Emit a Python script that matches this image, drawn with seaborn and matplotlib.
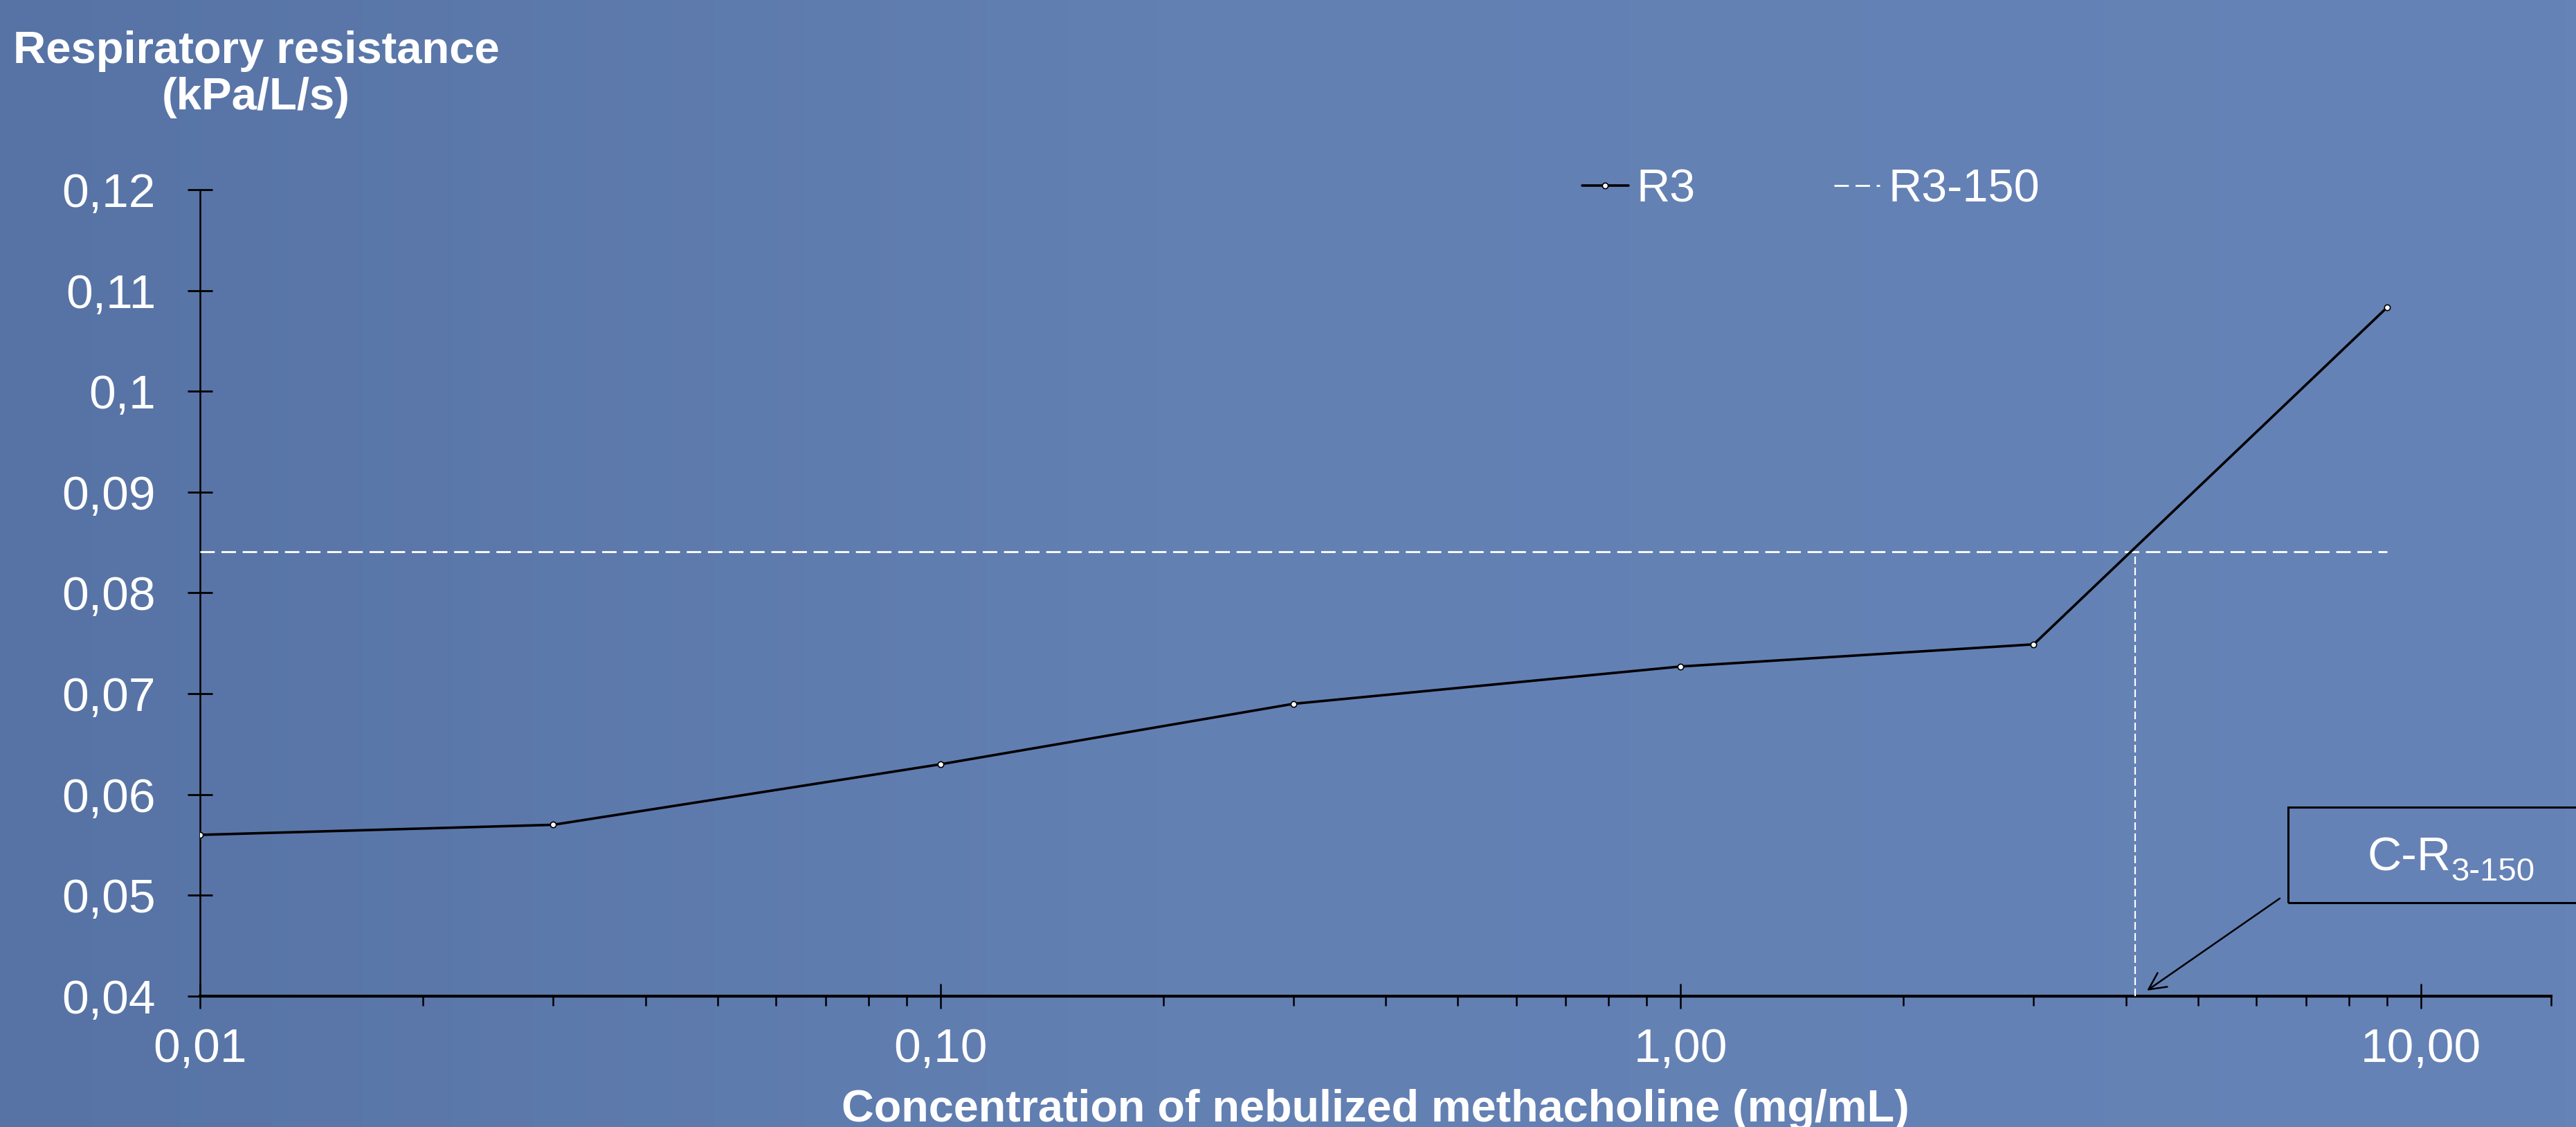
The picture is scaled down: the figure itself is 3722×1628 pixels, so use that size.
import numpy as np
import matplotlib
matplotlib.use("Agg")
import matplotlib.pyplot as plt
import matplotlib.ticker as mticker
from matplotlib.patches import Rectangle
from matplotlib.colors import LinearSegmentedColormap
import seaborn as sns

# ---------------- data ----------------
concentration = [0.01, 0.03, 0.10, 0.30, 1.00, 3.00, 9.00]          # mg/mL
r3 = [0.0560, 0.0570, 0.0630, 0.0690, 0.0727, 0.0749, 0.1083]        # kPa/L/s
r3_150_level = 0.0841                                                  # 150 % of baseline R3
r3_150_x = [0.01, 9.00]
c_r3_150 = 4.11                                                        # concentration at R3-150
y_floor = 0.04

series_names = ["R3", "R3-150"]
x_ticks = [0.01, 0.1, 1.0, 10.0]
x_tick_labels = ["0,01", "0,10", "1,00", "10,00"]
y_ticks = [0.04, 0.05, 0.06, 0.07, 0.08, 0.09, 0.10, 0.11, 0.12]
y_tick_labels = ["0,04", "0,05", "0,06", "0,07", "0,08", "0,09", "0,1", "0,11", "0,12"]
x_label = "Concentration of nebulized methacholine (mg/mL)"
y_label = "Respiratory resistance\n(kPa/L/s)"
annot_main, annot_sub = "C-R", "3-150"

# ---------------- style ----------------
sns.set_style("ticks")
FAM = ["Liberation Sans", "DejaVu Sans"]
plt.rcParams["font.family"] = FAM

W, H, DPI = 3722, 1628, 200
fig = plt.figure(figsize=(W / DPI, H / DPI), dpi=DPI)

# background gradient
bg = fig.add_axes([0, 0, 1, 1], zorder=-10)
cmap = LinearSegmentedColormap.from_list(
    "bg", [(0.0, "#5773a5"), (0.45, "#6380b3"), (1.0, "#6683b7")])
bg.imshow(np.linspace(0, 1, 512)[None, :], aspect="auto", cmap=cmap,
          extent=[0, 1, 0, 1])
bg.set_axis_off()

# axes placement (pixel-derived)
left, right = 289 / W, 3686 / W
bottom, top = (H - 1439) / H, (H - 274) / H
ax = fig.add_axes([left, bottom, right - left, top - bottom])
ax.patch.set_alpha(0)
ax.set_xscale("log")

# ---------------- marks ----------------
sns.lineplot(x=concentration, y=r3, ax=ax, color="black", lw=1.3,
             marker="o", markersize=3, markerfacecolor="white",
             markeredgecolor="black", markeredgewidth=0.6,
             estimator=None, sort=False, label=series_names[0], zorder=5)
line_r3 = ax.lines[-1]

sns.lineplot(x=r3_150_x, y=[r3_150_level] * len(r3_150_x), ax=ax,
             color="white", lw=1.0, estimator=None, sort=False,
             label=series_names[1], zorder=4)
line_thr = ax.lines[-1]
line_thr.set_dashes((7.5, 3.5))

sns.lineplot(x=[c_r3_150, c_r3_150], y=[y_floor, r3_150_level], ax=ax,
             color="white", lw=0.8, estimator=None, sort=False, zorder=4)
ax.lines[-1].set_dashes((5.0, 2.2))

if ax.get_legend() is not None:
    ax.get_legend().remove()

# ---------------- axes ----------------
ax.set_xlim(0.01, 15)
ax.set_ylim(0.04, 0.12)
ax.xaxis.set_major_locator(mticker.FixedLocator(x_ticks))
ax.xaxis.set_major_formatter(mticker.FixedFormatter(x_tick_labels))
minors = [k * 10.0 ** e for e in (-2, -1, 0) for k in range(2, 10)] + [15]
ax.xaxis.set_minor_locator(mticker.FixedLocator(minors))
ax.xaxis.set_minor_formatter(mticker.NullFormatter())
ax.yaxis.set_major_locator(mticker.FixedLocator(y_ticks))
ax.yaxis.set_major_formatter(mticker.FixedFormatter(y_tick_labels))
ax.yaxis.set_minor_locator(mticker.NullLocator())

ax.tick_params(axis="x", which="major", direction="inout", length=13.3,
               width=0.9, color="black", labelsize=25, labelcolor="white",
               pad=9.5)
ax.tick_params(axis="x", which="minor", direction="out", length=5,
               width=0.9, color="black")
ax.tick_params(axis="y", which="major", direction="inout", length=13,
               width=1.0, color="black", labelsize=25, labelcolor="white",
               pad=16.5)

for s in ("top", "right"):
    ax.spines[s].set_visible(False)
ax.spines["left"].set_color("black")
ax.spines["left"].set_linewidth(0.9)
ax.spines["bottom"].set_color("black")
ax.spines["bottom"].set_linewidth(1.5)
ax.grid(False)

ax.set_xlabel(x_label, fontsize=23.3, fontweight="bold", color="white")
ax.xaxis.label.set_va("baseline")
ax.xaxis.set_label_coords(0.5, (1439 - 1620) / 1165)
ax.set_ylabel("")

fig.text(370 / W, 1 - 158 / H, y_label, ha="center", va="baseline",
         multialignment="center", fontsize=23.5, fontweight="bold",
         color="white", linespacing=1.15)

# legend
fig.legend([line_r3, line_thr], series_names, loc="center left",
           bbox_to_anchor=(2286 / W, 1 - 274 / H), frameon=False,
           fontsize=24, handlelength=1.0, handletextpad=0.18,
           columnspacing=3.0, ncol=2, borderpad=0, borderaxespad=0,
           labelcolor="white")

# annotation box + arrow
ax.add_patch(Rectangle((0.888, 0.1161), 0.3, 0.1186, transform=ax.transAxes,
                       fill=False, ec="black", lw=1.1, clip_on=False))
ax.annotate("", xy=(0.8281, 0.0069), xytext=(0.8846, 0.1212),
            xycoords="axes fraction", textcoords="axes fraction",
            arrowprops=dict(arrowstyle="->", color="black", lw=0.9,
                            mutation_scale=22, shrinkA=0, shrinkB=0))
t1 = ax.text(0.9217, 0.1556, annot_main, transform=ax.transAxes,
             fontsize=24.5, color="white", ha="left", va="baseline")
ax.annotate(annot_sub, xy=(1, 0), xycoords=t1, fontsize=17, color="white",
            ha="left", va="baseline")

fig.savefig("out.png", dpi=DPI)
